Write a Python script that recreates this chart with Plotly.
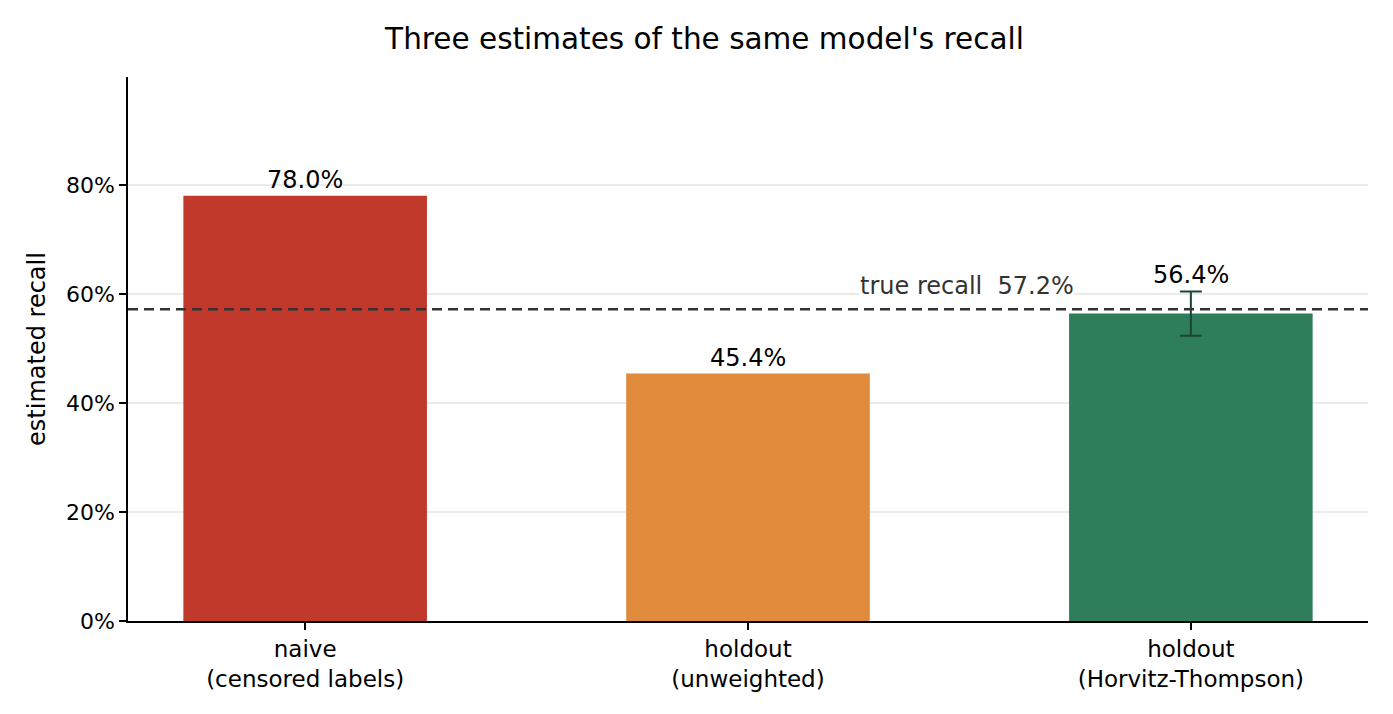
import plotly.graph_objects as go

categories = ["naive<br>(censored labels)", "holdout<br>(unweighted)", "holdout<br>(Horvitz-Thompson)"]
recall = [0.780, 0.454, 0.564]
ht_error = 0.0405
bar_colors = ["#c0392b", "#e08a3b", "#2e7d5b"]
true_recall = 0.572
y_ticks = [0, 0.2, 0.4, 0.6, 0.8]

xs = list(range(len(categories)))
label_tops = [recall[0], recall[1], recall[2] + ht_error]

fig = go.Figure()
fig.add_trace(go.Bar(
    x=xs, y=recall, width=0.55,
    marker=dict(color=bar_colors, line=dict(width=0)),
    showlegend=False, hoverinfo="y",
))

# only the Horvitz-Thompson estimate carries an interval
fig.add_trace(go.Scatter(
    x=[xs[2]], y=[recall[2]], mode="markers",
    marker=dict(size=1, color="rgba(0,0,0,0)"),
    error_y=dict(type="data", array=[ht_error], visible=True,
                 color="#1d4535", thickness=2, width=11),
    showlegend=False, hoverinfo="skip",
))

fig.add_shape(type="line", xref="paper", x0=0, x1=1, y0=true_recall, y1=true_recall,
              line=dict(color="#333333", width=2.5, dash="10px,6px"))

fig.add_annotation(x=1.738, y=true_recall, xanchor="right", yanchor="bottom",
                   text=f"true recall  {true_recall*100:.1f}%", showarrow=False,
                   font=dict(size=24, color="#333333"), bgcolor="white", yshift=8,
                   borderpad=0)

for i, (v, top) in enumerate(zip(recall, label_tops)):
    fig.add_annotation(x=i, y=top, text=f"{v*100:.1f}%", showarrow=False,
                       yanchor="bottom", yshift=0, font=dict(size=24, color="black"))

fig.update_layout(
    width=1393, height=714,
    paper_bgcolor="white", plot_bgcolor="white",
    font=dict(family="DejaVu Sans", size=24, color="black"),
    title=dict(text="Three estimates of the same model's recall", x=0.5, xanchor="center",
               y=0.957, yanchor="middle", font=dict(size=29.5)),
    margin=dict(l=120, r=33, t=69, b=101),
    xaxis=dict(range=[-0.4, 2.4], tickvals=xs, ticktext=categories,
               showline=True, linecolor="black", linewidth=1.5, ticks="outside",
               ticklen=7, tickwidth=1.5, tickcolor="black", showgrid=False, zeroline=False,
               tickfont=dict(size=23)),
    yaxis=dict(range=[0, 0.998], tickvals=y_ticks, tickformat=".0%",
               showline=True, linecolor="black", linewidth=1.5, ticks="outside",
               ticklen=7, tickwidth=1.5, tickcolor="black", showgrid=True, gridcolor="#ebebeb",
               gridwidth=1.5, zeroline=False,
               title=dict(text="estimated recall", standoff=14, font=dict(size=24)),
               tickfont=dict(size=22)),
)

fig.write_html("out.html")
